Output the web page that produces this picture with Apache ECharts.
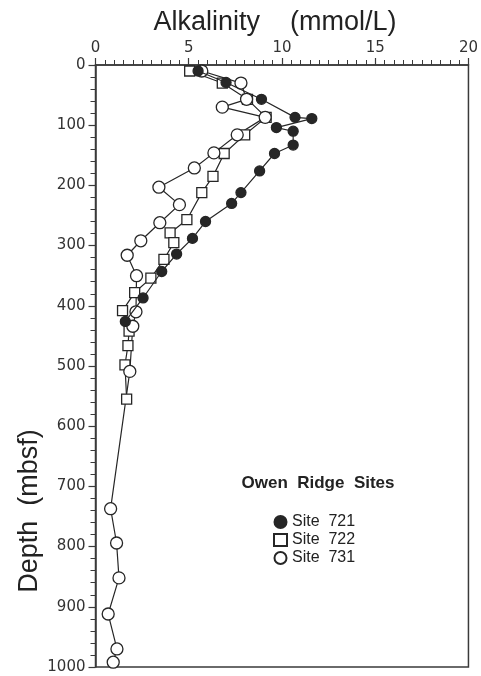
<!DOCTYPE html>
<html>
<head>
<meta charset="utf-8">
<title>Alkalinity profiles, Owen Ridge</title>
<script src="https://cdn.jsdelivr.net/npm/echarts@6/dist/echarts.min.js"></script>
<style>
  html, body { margin: 0; padding: 0; background: #fff; }
  #chart { width: 481px; height: 676px; }
</style>
</head>
<body>
<div id="chart"></div>
<script>
// Pore-water alkalinity (mmol/L) against depth (mbsf) at three Owen Ridge sites
const site721Alk   = [5.5, 7.0, 8.9, 10.7, 11.6, 9.7, 10.6, 10.6, 9.6, 8.8, 7.8, 7.3, 5.9, 5.2, 4.35, 3.55, 2.55, 1.6];
const site721Depth = [10, 29, 57, 87, 89, 104, 110, 133, 147, 176, 212, 230, 260, 288, 314, 343, 387, 426];

const site722Alk   = [5.05, 6.8, 8.15, 9.15, 8.0, 6.9, 6.3, 5.7, 4.9, 4.0, 4.2, 3.67, 2.97, 2.1, 1.45, 1.8, 1.74, 1.58, 1.67];
const site722Depth = [10, 30, 57, 87, 116, 147, 185, 212, 257, 279, 295, 323, 354, 378, 408, 442, 466, 498, 555];

const site731Alk   = [5.7, 7.8, 8.1, 6.8, 9.1, 7.6, 6.35, 5.3, 3.4, 4.5, 3.45, 2.43, 1.7, 2.2, 2.17, 2.0, 1.84, 0.81, 1.13, 1.26, 0.68, 1.15, 0.95];
const site731Depth = [10, 30, 57, 70, 87, 116, 146, 171, 203, 232, 262, 292, 316, 350, 410, 434, 509, 737, 794, 852, 912, 970, 992];

const alkTicks   = [0, 5, 10, 15, 20];
const depthTicks = [0, 100, 200, 300, 400, 500, 600, 700, 800, 900, 1000];

const siteNames = ['Site  721', 'Site  722', 'Site  731'];

const ink = '#262626';
const pairs = (xs, ys) => xs.map((v, i) => [v, ys[i]]);

function siteSeries(name, alk, depth, symbol, size, fill) {
  return {
    name: name,
    type: 'line',
    data: pairs(alk, depth),
    symbol: symbol,
    symbolSize: size,
    showAllSymbol: true,
    animation: false,
    lineStyle: { color: ink, width: 1.2 },
    itemStyle: { color: fill, borderColor: ink, borderWidth: 1.3 },
    z: fill === ink ? 4 : 3
  };
}

const chart = echarts.init(document.getElementById('chart'), null, { renderer: 'canvas' });

chart.setOption({
  backgroundColor: '#fff',
  animation: false,
  grid: {
    left: 95.5, right: 11, top: 65, bottom: 9,
    show: true, borderColor: '#3a3a3a', borderWidth: 1.5, backgroundColor: 'transparent'
  },
  xAxis: {
    type: 'value',
    position: 'top',
    min: alkTicks[0], max: alkTicks[alkTicks.length - 1], interval: 5,
    name: 'Alkalinity    (mmol/L)',
    nameLocation: 'middle',
    nameGap: 28,
    nameTextStyle: { fontFamily: 'Liberation Sans', fontSize: 27, color: '#222', padding: [0, 14, 0, 0] },
    axisLine: { show: true, lineStyle: { color: '#3a3a3a', width: 1.5 } },
    axisTick: { show: true, length: 7, lineStyle: { color: '#3a3a3a', width: 1.2 } },
    minorTick: { show: true, splitNumber: 10, length: 5, lineStyle: { color: '#3a3a3a', width: 1 } },
    axisLabel: { fontFamily: 'DejaVu Sans', fontSize: 15, color: '#333', margin: 9 },
    splitLine: { show: false }
  },
  yAxis: {
    type: 'value',
    inverse: true,
    min: depthTicks[0], max: depthTicks[depthTicks.length - 1], interval: 100,
    axisLine: { show: true, lineStyle: { color: '#3a3a3a', width: 1.5 } },
    axisTick: { show: true, length: 7, lineStyle: { color: '#3a3a3a', width: 1.2 } },
    minorTick: { show: true, splitNumber: 5, length: 5, lineStyle: { color: '#3a3a3a', width: 1 } },
    axisLabel: {
      fontFamily: 'DejaVu Sans', fontSize: 15, color: '#333', margin: 10,
      formatter: (v) => String(v)
    },
    splitLine: { show: false }
  },
  legend: {
    orient: 'vertical',
    left: 268, top: 509,
    itemWidth: 13, itemHeight: 12, itemGap: 2,
    selectedMode: false,
    textStyle: { fontFamily: 'Liberation Sans', fontSize: 16, color: '#222' },
    data: [
      { name: siteNames[0], icon: 'circle' },
      { name: siteNames[1], icon: 'rect' },
      { name: siteNames[2], icon: 'circle' }
    ]
  },
  graphic: [
    {
      type: 'text',
      x: 30, y: 511,
      rotation: Math.PI / 2,
      style: {
        text: 'Depth  (mbsf)',
        fontFamily: 'Liberation Sans', fontSize: 27, fill: '#222',
        textAlign: 'center', textVerticalAlign: 'middle'
      }
    },
    {
      type: 'text',
      x: 318, y: 483,
      style: {
        text: 'Owen  Ridge  Sites',
        fontFamily: 'Liberation Sans', fontWeight: 'bold', fontSize: 17, fill: '#222',
        textAlign: 'center', textVerticalAlign: 'middle'
      }
    }
  ],
  series: [
    siteSeries(siteNames[0], site721Alk, site721Depth, 'circle', 10, ink),
    siteSeries(siteNames[1], site722Alk, site722Depth, 'rect', 10, '#fff'),
    siteSeries(siteNames[2], site731Alk, site731Depth, 'circle', 12, '#fff')
  ]
});
</script>
</body>
</html>
